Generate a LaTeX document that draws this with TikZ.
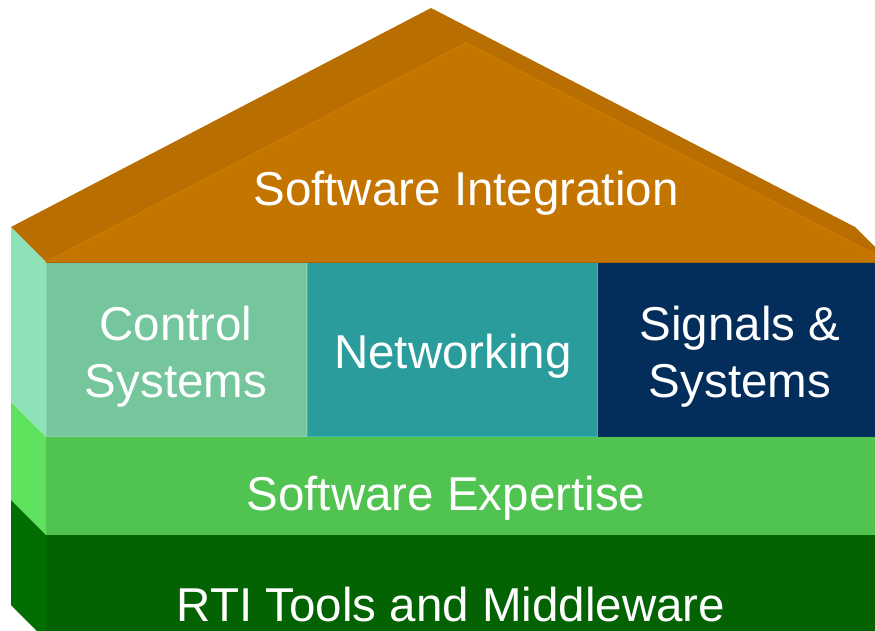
\documentclass[tikz,border=0pt]{standalone}
\usepackage{fontspec}
\setmainfont{Liberation Sans}
\definecolor{roofFront}{HTML}{C47500}
\definecolor{roofTop}{HTML}{B86E00}
\definecolor{roofEdge}{HTML}{CC7C00}
\definecolor{roofLine}{HTML}{A86400}
\definecolor{ctrlFace}{HTML}{75C59D}
\definecolor{ctrlLine}{HTML}{88D2AC}
\definecolor{mintSide}{HTML}{8DE2B7}
\definecolor{netFace}{HTML}{2A9C9C}
\definecolor{netLine}{HTML}{38B6B2}
\definecolor{sigFace}{HTML}{032D5A}
\definecolor{expFace}{HTML}{50C350}
\definecolor{expSide}{HTML}{5FE35F}
\definecolor{rtiFace}{HTML}{036303}
\definecolor{rtiSide}{HTML}{006E00}
\begin{document}
\begin{tikzpicture}[x=1pt,y=-1pt,
  lbl/.style={text=white, font=\fontsize{47.5}{57}\selectfont,
              align=center, anchor=base, inner sep=0pt}]
\useasboundingbox (0,0) rectangle (875,631);
\begin{scope}
  \clip (0,0) rectangle (875,631);
  % roof: sloped top surfaces, then the front gable
  \fill[roofTop] (11,227) -- (431,8) -- (855,227) -- (890,262) -- (46,262) -- cycle;
  \fill[roofFront] (46,262) -- (466,43) -- (890,262) -- cycle;
  \draw[roofEdge, line width=1.2pt] (46,262) -- (466,43) -- (890,262);
  % left side faces of the walls
  \fill[mintSide] (11,227) -- (46,262) -- (46,437) -- (11,402) -- cycle;
  \fill[expSide]  (11,402) -- (46,437) -- (46,535) -- (11,500) -- cycle;
  \fill[rtiSide]  (11,500) -- (46,535) -- (46,640) -- (11,605) -- cycle;
  % front faces
  \fill[ctrlFace] (46,262) rectangle (307,437);
  \draw[ctrlLine, line width=1pt] (46.5,262.5) rectangle (306.5,436.5);
  \fill[netFace] (307,262) rectangle (598,437);
  \draw[netLine, line width=1pt] (307.5,262.5) rectangle (597.5,436.5);
  \fill[sigFace] (598,262) rectangle (890,437);
  \fill[expFace] (46,437) rectangle (890,535);
  \fill[rtiFace] (46,535) rectangle (890,640);
  \draw[roofLine, line width=1pt] (46,262) -- (890,262);
\end{scope}
% labels (two-line labels are placed by the baseline of their last line)
\node[lbl] (integration) at (466,205) {Software Integration};
\node[lbl] (control) at (176,397) {Control\\Systems};
\node[lbl] (networking) at (453,368) {Networking};
\node[lbl] (signals) at (740,397) {Signals \&\\Systems};
\node[lbl] (expertise) at (446,510) {Software Expertise};
\node[lbl] (rti) at (451,621) {RTI Tools and Middleware};
\end{tikzpicture}
\end{document}
